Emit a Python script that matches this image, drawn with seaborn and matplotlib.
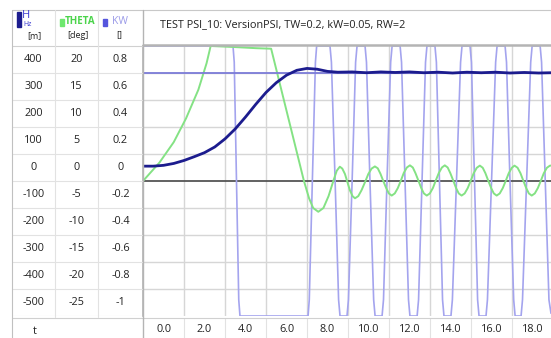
import matplotlib
matplotlib.use("Agg")
import matplotlib.pyplot as plt
from matplotlib.lines import Line2D
from matplotlib.patches import Rectangle
import pandas as pd
import seaborn as sns

sns.set_theme(style="white")
plt.rcParams["font.family"] = ["Open Sans", "DejaVu Sans"]

# ---------------- data ----------------
title = "TEST PSI_10: VersionPSI, TW=0.2, kW=0.05, RW=2"

h_ticks = [400, 300, 200, 100, 0, -100, -200, -300, -400, -500]
theta_ticks = [20, 15, 10, 5, 0, -5, -10, -15, -20, -25]
kw_ticks = [0.8, 0.6, 0.4, 0.2, 0, -0.2, -0.4, -0.6, -0.8, -1]
kw_tick_labels = ["0.8", "0.6", "0.4", "0.2", "0", "-0.2", "-0.4", "-0.6", "-0.8", "-1"]
t_ticks = [0, 2, 4, 6, 8, 10, 12, 14, 16, 18]
t_tick_labels = ["0.0", "2.0", "4.0", "6.0", "8.0", "10.0", "12.0", "14.0", "16.0", "18.0"]

h_setpoint = 400

# level H [m]
h_t = [0, 0.5, 1.0, 1.5, 2.0, 2.5, 3.0, 3.5, 4.0, 4.5, 5.0, 5.5, 6.0, 6.5, 7.0,
       7.5, 8.0, 8.5, 9.0, 9.5, 10.2, 10.9, 11.6, 12.3, 13.0, 13.7, 14.4, 15.1,
       15.8, 16.5, 17.2, 17.9, 18.6, 19.3, 19.9]
h_val = [55, 55, 58, 65, 76, 90, 105, 126, 156, 193, 237, 284, 328, 364, 392,
         410, 417, 414, 406, 403, 404, 401, 404, 402, 404, 401, 403, 400, 403,
         401, 403, 400, 402, 400, 401]

# gate angle THETA [deg]
theta_t = [0, 0.8, 1.5, 2.1, 2.7, 3.1, 3.3, 4.5, 5.5, 6.25, 7.85, 8.1, 8.3, 8.55,
           8.8, 9.05, 9.3, 9.45, 9.6,
           9.72, 9.85, 9.97, 10.09, 10.22, 10.34,
           10.5, 10.66, 10.83, 10.99, 11.15, 11.31,
           11.45, 11.58, 11.72, 11.86, 11.99, 12.13,
           12.28, 12.43, 12.58, 12.72, 12.87, 13.02,
           13.16, 13.29, 13.43, 13.57, 13.7, 13.84,
           13.99, 14.14, 14.28, 14.43, 14.58, 14.72,
           14.86, 14.99, 15.13, 15.27, 15.4, 15.54,
           15.69, 15.84, 15.99, 16.13, 16.28, 16.43,
           16.57, 16.7, 16.84, 16.98, 17.11, 17.25,
           17.4, 17.55, 17.7, 17.84, 17.99, 18.12,
           18.27, 18.41, 18.55, 18.69, 18.82, 18.96,
           19.11, 19.26, 19.41, 19.55, 19.7, 19.85, 19.9]
theta_val = [0, 3.4, 7.2, 11.6, 16.9, 21.8, 25, 24.8, 24.6, 24.5, 0, -3.2, -5.0,
             -5.7, -5.0, -2.8, 0.2, 1.9, 2.65,
             2.3, 1.3, -0.2, -1.7, -2.8, -3.2,
             -2.8, -1.7, -0.2, 1.3, 2.3, 2.7,
             2.35, 1.35, 0.0, -1.3, -2.3, -2.7,
             -2.3, -1.3, 0.1, 1.5, 2.5, 2.9,
             2.5, 1.45, 0.1, -1.3, -2.3, -2.7,
             -2.3, -1.3, 0.1, 1.5, 2.5, 2.9,
             2.5, 1.45, 0.1, -1.3, -2.3, -2.7,
             -2.3, -1.3, 0.1, 1.45, 2.45, 2.85,
             2.45, 1.45, 0.05, -1.3, -2.3, -2.7,
             -2.3, -1.3, 0.1, 1.45, 2.45, 2.85,
             2.45, 1.45, 0.05, -1.3, -2.3, -2.7,
             -2.3, -1.3, 0.1, 1.45, 2.45, 2.85, 2.85]

# controller output KW [-]
kw_t = [0.0, 0.01, 4.39, 4.45, 4.56, 4.67, 4.73, 8.05, 8.11, 8.26, 8.41, 8.47,
        9.12, 9.19, 9.37, 9.54, 9.61, 9.95, 10.02, 10.2, 10.37, 10.44,
        10.83, 10.9, 11.07, 11.25, 11.32, 11.66, 11.73, 11.9, 12.08, 12.15,
        12.54, 12.61, 12.78, 12.95, 13.02, 13.37, 13.44, 13.61, 13.78, 13.85,
        14.24, 14.31, 14.46, 14.61, 14.68, 15.02, 15.09, 15.29, 15.49, 15.56,
        15.95, 16.02, 16.17, 16.32, 16.39, 16.73, 16.8, 17.0, 17.2, 17.27,
        17.66, 17.73, 17.9, 18.08, 18.15, 18.44, 18.51, 18.71, 18.91, 18.98,
        19.37, 19.44, 19.62, 19.8, 19.9]
kw_val = [0.34, 1.0, 1.0, 0.88, 0.0, -0.88, -1.0, -1.0, -0.88, 0.0, 0.88, 1.0,
          1.0, 0.88, 0.0, -0.88, -1.0, -1.0, -0.88, 0.0, 0.88, 1.0,
          1.0, 0.88, 0.0, -0.88, -1.0, -1.0, -0.88, 0.0, 0.88, 1.0,
          1.0, 0.88, 0.0, -0.88, -1.0, -1.0, -0.88, 0.0, 0.88, 1.0,
          1.0, 0.88, 0.0, -0.88, -1.0, -1.0, -0.88, 0.0, 0.88, 1.0,
          1.0, 0.88, 0.0, -0.88, -1.0, -1.0, -0.88, 0.0, 0.88, 1.0,
          1.0, 0.88, 0.0, -0.88, -1.0, -1.0, -0.88, 0.0, 0.88, 1.0,
          1.0, 0.88, 0.0, -0.88, -0.98]

# ---------------- styling ----------------
C_H = "#1c1c8e"
C_SET = "#7c7cd8"
C_THETA = "#84e284"
C_KW = "#a4a4ee"
C_GRID = "#d6d6d6"
C_ZERO = "#555555"
C_BORDER = "#b4b4b4"
C_TXT = "#222222"

W, H = 551, 338
fig = plt.figure(figsize=(W / 100, H / 100), dpi=100)
fig.patch.set_facecolor("white")


def fx(px):
    return px / W


def fy(py):
    return 1 - py / H


X0, X1, Y0, Y1 = 143, 551, 46, 316
TMAX = 19.9

# grid / base axes in H scale
ax = fig.add_axes([fx(X0), fy(Y1), fx(X1) - fx(X0), fy(Y0) - fy(Y1)])
ax.set_xlim(0, TMAX)
ax.set_ylim(-500, 500)
for v in [-400, -300, -200, -100, 100, 200, 300, 400]:
    ax.axhline(v, color=C_GRID, lw=1.0, zorder=0)
for t in t_ticks[1:]:
    ax.axvline(t, color=C_GRID, lw=1.0, zorder=0)
ax.axhline(0, color=C_ZERO, lw=1.3, zorder=1)


def overlay(ylim):
    a = ax.twinx()
    a.set_ylim(*ylim)
    a.set_xlim(0, TMAX)
    a.patch.set_visible(False)
    return a


ax_kw = overlay((-1, 1))
ax_th = overlay((-25, 25))
ax_h = overlay((-500, 500))

sns.lineplot(data=pd.DataFrame({"t": kw_t, "KW": kw_val}), x="t", y="KW",
             ax=ax_kw, color=C_KW, lw=1.2, estimator=None, sort=False)
sns.lineplot(data=pd.DataFrame({"t": theta_t, "THETA": theta_val}), x="t",
             y="THETA", ax=ax_th, color=C_THETA, lw=1.4, estimator=None, sort=False)
ax_h.axhline(h_setpoint, color=C_SET, lw=1.3)
sns.lineplot(data=pd.DataFrame({"t": h_t, "H": h_val}), x="t", y="H",
             ax=ax_h, color=C_H, lw=2.0, estimator=None, sort=False)

for a in [ax, ax_kw, ax_th, ax_h]:
    a.set_xticks([])
    a.set_yticks([])
    a.set_xlabel("")
    a.set_ylabel("")
    for s in a.spines.values():
        s.set_visible(False)
    a.set_xlim(0, TMAX)
ax.spines["left"].set_visible(True)
ax.spines["left"].set_color(C_BORDER)
ax.spines["left"].set_linewidth(1.2)

# ---------------- value table on the left ----------------
cols = [(12, 55, (-500, 500), h_ticks, [str(v) for v in h_ticks], 100),
        (55, 98, (-25, 25), theta_ticks, [str(v) for v in theta_ticks], 5),
        (98, 143, (-1, 1), kw_ticks, kw_tick_labels, 0.2)]
for xa, xb, lim, vals, labels, step in cols:
    ca = fig.add_axes([fx(xa), fy(Y1), fx(xb) - fx(xa), fy(Y0) - fy(Y1)])
    ca.set_xlim(0, 1)
    ca.set_ylim(*lim)
    ca.patch.set_visible(False)
    ca.set_xticks([])
    ca.set_yticks([])
    for s in ca.spines.values():
        s.set_visible(False)
    for v, lab in zip(vals, labels):
        ca.text(0.5, v + step / 2, lab, ha="center", va="center",
                fontsize=7.8, color=C_TXT)
        ca.axhline(v, color="#e2e2e2", lw=0.8)

# ---------------- time labels along the bottom ----------------
bx = fig.add_axes([fx(X0), 0, fx(X1) - fx(X0), fy(Y1 + 2)])
bx.set_xlim(0, TMAX)
bx.set_ylim(0, 1)
bx.patch.set_visible(False)
bx.set_xticks([])
bx.set_yticks([])
for s in bx.spines.values():
    s.set_visible(False)
for t, lab in zip(t_ticks, t_tick_labels):
    bx.text(t + 1.0, 0.42, lab, ha="center", va="center", fontsize=7.8, color=C_TXT)
    if t > 0:
        bx.axvline(t, color="#e2e2e2", lw=0.8)
fig.text(fx(35), fy(331), "t", ha="center", va="center", fontsize=7.8, color=C_TXT)

# ---------------- frame lines ----------------
def hline(y, xa, xb, color, lw):
    fig.add_artist(Line2D([fx(xa), fx(xb)], [fy(y), fy(y)], color=color, lw=lw,
                          transform=fig.transFigure))


def vline(x, ya, yb, color, lw):
    fig.add_artist(Line2D([fx(x), fx(x)], [fy(ya), fy(yb)], color=color, lw=lw,
                          transform=fig.transFigure))


hline(10, 12, 551, "#c8c8c8", 0.8)
hline(44.5, 143, 551, C_BORDER, 1.8)
hline(45.5, 12, 143, "#d0d0d0", 0.8)
hline(317.5, 12, 551, "#d0d0d0", 0.8)
vline(12, 10, 338, "#c0c0c0", 0.8)
vline(55, 10, 317, "#e2e2e2", 0.8)
vline(98, 10, 317, "#e2e2e2", 0.8)
vline(143, 10, 338, C_BORDER, 1.0)

# ---------------- header ----------------
fig.text(fx(160), fy(25), title, ha="left", va="center", fontsize=7.8, color=C_TXT)

fig.add_artist(Rectangle((fx(17), fy(27)), fx(4), fy(12) - fy(27), color=C_H,
                         transform=fig.transFigure))
fig.text(fx(22), fy(16), "H", ha="left", va="center", fontsize=8, color="#3a3ad0")
fig.text(fx(23), fy(25), "Hz", ha="left", va="center", fontsize=5, color="#3a3ad0")
fig.text(fx(27), fy(36), "[m]", ha="left", va="center", fontsize=6.5, color=C_TXT)

fig.add_artist(Rectangle((fx(60), fy(26)), fx(4), fy(19) - fy(26), color="#6ee86e",
                         transform=fig.transFigure))
fig.text(fx(65), fy(22), "THETA", ha="left", va="center", fontsize=7,
         color="#4cd44c", fontweight="bold")
fig.text(fx(67), fy(35), "[deg]", ha="left", va="center", fontsize=6.5, color=C_TXT)

fig.add_artist(Rectangle((fx(103), fy(26)), fx(4), fy(19) - fy(26), color="#5555dd",
                         transform=fig.transFigure))
fig.text(fx(112), fy(22), "KW", ha="left", va="center", fontsize=7.5, color="#9a9ae8")
fig.text(fx(116), fy(35), "[]", ha="left", va="center", fontsize=6.5, color=C_TXT)

fig.savefig("out.png", dpi=100, facecolor="white")
